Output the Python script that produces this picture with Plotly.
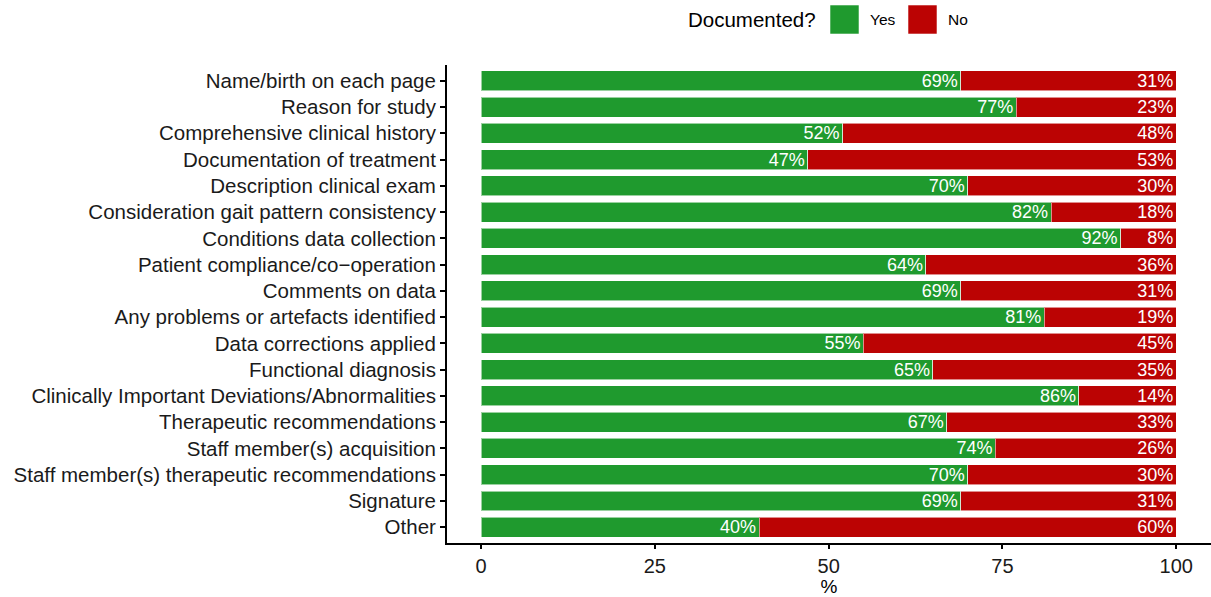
import plotly.graph_objects as go

# Documentation items (top to bottom) and share of reports documenting each
items = [
    "Name/birth on each page",
    "Reason for study",
    "Comprehensive clinical history",
    "Documentation of treatment",
    "Description clinical exam",
    "Consideration gait pattern consistency",
    "Conditions data collection",
    "Patient compliance/co\u2212operation",
    "Comments on data",
    "Any problems or artefacts identified",
    "Data corrections applied",
    "Functional diagnosis",
    "Clinically Important Deviations/Abnormalities",
    "Therapeutic recommendations",
    "Staff member(s) acquisition",
    "Staff member(s) therapeutic recommendations",
    "Signature",
    "Other",
]
yes_pct = [69, 77, 52, 47, 70, 82, 92, 64, 69, 81, 55, 65, 86, 67, 74, 70, 69, 40]
no_pct = [31, 23, 48, 53, 30, 18, 8, 36, 31, 19, 45, 35, 14, 33, 26, 30, 31, 60]

legend_title = "Documented?"
groups = ["Yes", "No"]
colors = {"Yes": "#1f9a2e", "No": "#bb0303"}
x_ticks = [0, 25, 50, 75, 100]

FONT = "Liberation Sans, Arial, sans-serif"

W, H = 1211, 597
ML, MR, MT, MB = 447, 0, 65, 54

fig = go.Figure()
for name, vals in zip(groups, [yes_pct, no_pct]):
    fig.add_trace(go.Bar(
        y=items,
        x=vals,
        name=name,
        orientation="h",
        width=0.76,
        marker=dict(color=colors[name], line=dict(color="rgba(255,255,255,0.55)", width=1)),
        text=[f"{v}%" for v in vals],
        textposition="inside",
        insidetextanchor="end",
        textangle=0,
        textfont=dict(color="white", size=18, family=FONT),
        showlegend=False,
        hoverinfo="skip",
    ))

fig.update_layout(
    barmode="stack",
    width=W,
    height=H,
    margin=dict(l=ML, r=MR, t=MT, b=MB),
    plot_bgcolor="white",
    paper_bgcolor="white",
    font=dict(family=FONT, color="#1a1a1a", size=20),
    uniformtext=dict(minsize=18, mode="show"),
)

fig.update_xaxes(
    range=[-4.9, 105],
    tickvals=x_ticks,
    ticktext=[str(t) for t in x_ticks],
    showgrid=False,
    zeroline=False,
    showline=True,
    linecolor="black",
    linewidth=2,
    ticks="outside",
    ticklen=4,
    tickwidth=1.5,
    tickcolor="black",
    tickfont=dict(size=20, color="#1a1a1a"),
    title=dict(text="%", font=dict(size=19, color="black"), standoff=6),
)
fig.update_yaxes(
    categoryorder="array",
    categoryarray=items[::-1],
    range=[-0.6, len(items) - 0.4],
    showgrid=False,
    zeroline=False,
    showline=True,
    linecolor="black",
    linewidth=2,
    ticks="outside",
    ticklen=5,
    tickwidth=1.5,
    tickcolor="black",
    tickfont=dict(size=20.5, color="#1a1a1a"),
)

# Legend along the top; paper coordinates are relative to the plot area
PW, PH = W - ML - MR, H - MT - MB
def px(x):
    return (x - ML) / PW
def py(y):
    return (H - MB - y) / PH

fig.add_annotation(x=px(818), y=py(20), xref="paper", yref="paper", text=legend_title,
                   showarrow=False, xanchor="right", yanchor="middle",
                   font=dict(size=20.5, color="black", family=FONT))
swatches = [(830, "Yes", 868), (908, "No", 946)]
for x0, name, tx in swatches:
    fig.add_shape(type="rect", xref="paper", yref="paper",
                  x0=px(x0), x1=px(x0 + 29), y0=py(34), y1=py(5),
                  fillcolor=colors[name], line=dict(color="rgba(255,255,255,0.55)", width=1))
    fig.add_annotation(x=px(tx), y=py(20), xref="paper", yref="paper", text=name,
                       showarrow=False, xanchor="left", yanchor="middle",
                       font=dict(size=15.5, color="black", family=FONT))

fig.write_html("out.html")
